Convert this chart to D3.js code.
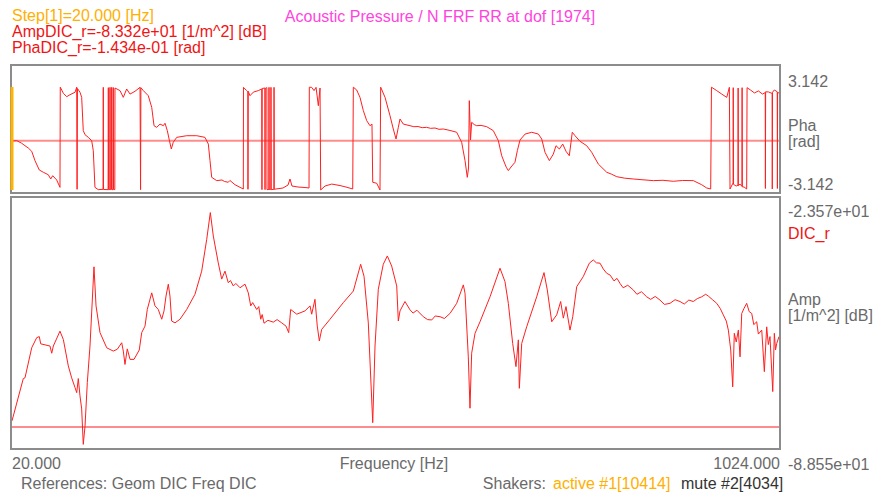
<!DOCTYPE html>
<html lang="en">
<head>
<meta charset="UTF-8">
<title>Acoustic Pressure FRF</title>
<script src="https://d3js.org/d3.v7.min.js"></script>
<style>
  body { margin: 0; background: #fff; }
  svg text { font-family: "Liberation Sans", Arial, sans-serif; font-size: 16px; }
</style>
</head>
<body>
<svg id="chart" width="874" height="492"></svg>
<script>
// Cursor / header values
const stepHz = 20.0;
const cursorAmp = -83.32;
const cursorPha = -0.1434;

// Axis extents and tick labels
const freqRange = [20, 1024];
const freqTicks = ["20.000", "1024.000"];
const phaRange = [-Math.PI, Math.PI];
const phaTicks = ["3.142", "-3.142"];
const ampRange = [-88.55, -23.57];
const ampTicks = ["-2.357e+01", "-8.855e+01"];

// Amplitude [dB]
const ampFreq = [20, 34.8, 37.0, 45.8, 52.3, 55.7, 57.6, 69.7, 72.0, 74.1, 82.8, 87.2, 93.7, 98.1, 102.5, 104.7, 106.8, 109.0, 111.2, 113.3,
  115.6, 118.6, 122.1, 127.3, 130.0, 135.2, 144.0, 152.6, 157.8, 163.6, 165.7, 167.9, 170.9, 174.5, 179.7, 186.6, 189.8, 194.1, 197.1, 202.9,
  207.2, 211.5, 216.0, 219.0, 221.6, 224.6, 226.8, 229.0, 233.4, 239.9, 248.7, 259.5, 268.3, 274.9, 279.6, 283.5, 290.0, 294.5, 298.8, 303.1,
  306, 309.7, 313, 318.5, 325.0, 329.3, 332.5, 335, 340.3, 343, 345.6, 347.5, 349.9, 355, 362.0, 367, 373.0, 378.7, 382.2, 384.8,
  392.7, 403.5, 410.1, 412.3, 416.6, 419.6, 422.3, 425.4, 436.3, 453.7, 466.8, 476.4, 480.8, 486.4, 492.2, 495.2, 499.5, 506.0, 511.3, 517.0,
  523.6, 525.7, 527.9, 534.4, 541.0, 545, 550, 558.4, 564, 569.4, 574, 580.3, 586, 593.3, 602.1, 610.8, 613.0, 617.3, 619.5, 621.7,
  626.1, 632.6, 645.7, 658.8, 665.3, 669.7, 675.4, 679.7, 682.8, 684.1, 687.2, 693.7, 706.8, 716.4, 720.7, 726.5, 733.0, 738.2, 741.7, 745.2,
  750.4, 754.0, 759.2, 767.8, 775.7, 780.9, 785, 789.7, 794, 798.5, 803, 808, 812, 815.9, 820, 826, 833.3, 838, 844, 850.8,
  856, 862, 868.2, 874, 881.3, 888, 894.4, 900, 906, 911.8, 917, 922.8, 928, 931.5, 937, 942.5, 947, 951.1, 955, 957.7,
  960.8, 963.4, 965.5, 968, 970.8, 973.0, 975.2, 978, 981.7, 985, 988.3, 991, 994.8, 997, 1001.4, 1004.8, 1007.9, 1010, 1012.2, 1015.8,
  1017.9, 1019.5, 1021.0, 1024];
const ampDb = [-81.6, -69.9, -69.7, -61.4, -58.6, -58.3, -60.3, -60.9, -62.9, -60.9, -56.8, -59.1, -66.4, -69.7, -72.4, -73.8, -69.9, -74.7, -78.3, -88.1,
  -83.0, -71.0, -60.9, -39.0, -49.8, -57.2, -61.4, -62.3, -61.8, -60.0, -62.3, -66.0, -61.7, -64.6, -64.6, -62.0, -57.2, -55.4, -50.8, -46.2,
  -49.8, -50.8, -53.5, -51.2, -47.1, -43.8, -47.1, -54.0, -54.5, -53.5, -50.8, -46.6, -40.2, -31.4, -24.0, -30.5, -37.9, -42.4, -40.2, -43.4,
  -42.8, -44.3, -43.6, -44.8, -43.8, -46.2, -49.8, -48.9, -50.8, -50.0, -53.5, -52.2, -54.6, -53.8, -54.3, -53.6, -54.5, -55.4, -57.2, -50.8,
  -52.1, -51.2, -49.8, -52.1, -48.0, -55.4, -59.5, -56.3, -53.5, -48.9, -45.7, -38.3, -41.6, -54.5, -82.1, -60.9, -45.2, -38.3, -36.0, -38.8,
  -44.3, -54.0, -51.2, -48.6, -50.9, -51.8, -51.0, -52.8, -53.6, -53.7, -52.6, -52.8, -53.3, -51.9, -49.1, -44.0, -46.3, -63.9, -78.1, -62.9,
  -57.4, -54.2, -47.3, -39.4, -43.1, -49.1, -60.2, -66.6, -59.2, -72.6, -60.2, -55.6, -47.3, -40.6, -45.4, -54.2, -52.3, -48.6, -53.2, -50.0,
  -56.5, -52.8, -44.5, -41.7, -38.0, -37.1, -37.9, -38.0, -39.6, -40.8, -41.3, -42.9, -42.2, -43.6, -44.8, -44.1, -45.4, -46.6, -45.9, -47.3,
  -48.0, -47.2, -48.2, -49.4, -49.1, -48.1, -48.6, -49.3, -48.2, -48.6, -47.8, -47.3, -46.6, -47.1, -48.1, -49.1, -50.5, -52.3, -54.0, -56.5,
  -62.0, -72.2, -57.4, -59.8, -56.5, -63.9, -51.9, -50.6, -49.1, -51.4, -51.9, -55.0, -54.2, -57.6, -56.5, -68.0, -55.6, -60.5, -58.3, -73.5,
  -57.4, -62.0, -60.2, -58.3];

// Phase [rad] (wrapped to +/- pi)
const phaFreq = [20, 26.2, 32.7, 37.0, 41.3, 45.8, 50.1, 55.7, 61.0, 67.5, 70.7, 73.3, 78.5, 82.8, 83.2, 87.2, 91.6, 95.9, 102.5, 104.7,
  105.2, 105.7, 109.0, 111.2, 113.3, 115.6, 119.9, 124.3, 126.4, 128.6, 132.9, 139.2, 139.5, 139.8, 145.8, 146.1, 146.4, 148.1, 148.3, 148.6,
  150.3, 150.5, 150.8, 152.4, 152.6, 152.9, 154.6, 154.8, 161.4, 165.7, 170.1, 174.5, 181.0, 187.6, 188.3, 188.7, 191.9, 198.4, 202.9, 205.9,
  209.4, 213.7, 218.1, 220.3, 223.3, 225.9, 228.5, 231.1, 235.6, 248.7, 261.8, 272.6, 277.0, 279.2, 281.4, 288.0, 294.9, 298, 303.1, 305.3,
  311.9, 318.5, 322.8, 323.0, 327.2, 328.7, 328.9, 329.2, 331.5, 335.9, 342.4, 346.9, 347.2, 347.5, 351.0, 351.2, 351.5, 353.6, 353.8, 356.2,
  356.4, 356.7, 358.8, 359.0, 359.3, 362.8, 363.0, 363.3, 365.6, 374.7, 381.3, 383.9, 386.5, 394.4, 403.5, 408.8, 409.2, 412.3, 415.4, 418.0,
  421.0, 423.2, 424.1, 429.7, 438.5, 449.4, 457.2, 466.0, 466.8, 471.2, 475.5, 479.9, 484.3, 488.6, 491.2, 492.2, 497.4, 501.7, 502.6, 508.3,
  514.8, 519.1, 522.7, 525.7, 527.9, 532.2, 541.0, 546, 551.5, 557, 562.8, 568, 573.7, 579, 584.6, 593.3, 602.1, 608.6, 613.0, 616.0,
  617.6, 618.6, 620.2, 621.7, 625, 628.3, 634, 641.4, 650.0, 656.6, 661.0, 665.3, 667, 669.7, 673.2, 678.4, 681.5, 685.0, 691.6, 700.3,
  709.0, 713.4, 717.7, 723.4, 728.6, 732.1, 736.5, 740.9, 745.2, 749.5, 753.4, 757.0, 763.5, 772.3, 778.8, 787.5, 798.5, 805, 811.6, 822,
  833.3, 846, 859.5, 872, 885.7, 898, 911.8, 922.8, 929.4, 934.6, 935.6, 942.5, 949.0, 955.6, 959.0, 959.9, 963.9, 964.1, 964.5, 967.9,
  970.3, 970.5, 970.8, 973.0, 975.5, 975.7, 976.0, 978.3, 981.7, 982.2, 986.6, 991.8, 997.1, 1002.3, 1006.0, 1006.2, 1006.5, 1010.2, 1015.0, 1015.2,
  1015.5, 1017.9, 1021.7, 1021.9, 1022.2, 1024];
const phaRad = [-0.143, -0.13, -0.29, -0.44, -0.58, -0.78, -1.35, -1.92, -2.06, -2.21, -2.47, -2.27, -2.53, -2.98, 3.13, 2.76, 2.55, 2.67, 2.82, 3.13,
  -3.10, 3.05, 2.82, 2.51, 0.48, 0.23, 0.07, -0.13, -0.74, -2.98, -3.12, -3.10, 3.12, -3.11, -3.12, 3.10, -3.12, -3.11, 3.12, -3.12,
  -3.10, 3.12, -3.12, -3.12, 3.11, -3.10, -3.12, 3.08, 2.92, 2.51, 3.02, 2.71, 2.88, 3.12, -3.12, 3.10, 2.92, 2.61, 1.90, 0.78,
  0.68, 0.88, 0.78, 0.93, 0.48, -0.09, -0.64, -0.23, 0.07, 0.17, 0.17, 0.07, -0.34, -1.35, -2.37, -2.57, -2.53, -2.62, -2.67, -2.56,
  -2.82, -2.98, -3.08, 3.12, 2.92, 2.85, -3.10, 2.88, 2.61, 2.83, 2.92, 3.02, -3.12, 3.05, 3.08, -3.12, 3.06, 3.10, -3.12, -3.11,
  3.12, -3.11, -3.10, 3.12, -3.12, -3.10, 3.12, -3.10, -3.08, -3.02, -2.84, -2.47, -2.90, -2.96, -2.99, -3.02, 3.13, 3.12, 2.92, 3.12,
  2.00, 3.08, -3.14, -2.90, -2.78, -2.87, -2.96, -3.08, 3.13, 2.96, 2.51, 1.70, 1.09, 0.78, 0.88, -2.67, -2.73, -3.14, 3.13, 2.51,
  1.39, 0.58, -0.03, 0.68, 1.19, 0.88, 0.78, 0.72, 0.73, 0.66, 0.68, 0.62, 0.64, 0.56, 0.58, 0.49, 0.38, -0.23, -1.35, -2.37,
  -1.80, 2.31, -0.09, 0.99, 0.85, 0.78, 0.80, 0.72, 0.48, -0.13, -1.05, -1.56, -1.75, -1.96, -1.74, -1.45, -0.74, -0.09, 0.27, 0.38,
  0.27, -0.03, -0.84, -1.35, -0.95, -0.44, -0.64, -0.34, -0.78, -1.05, 0.38, 0.17, -0.17, -0.44, -0.84, -1.56, -2.06, -2.18, -2.33, -2.42,
  -2.47, -2.52, -2.57, -2.55, -2.61, -2.56, -2.57, -2.82, -3.02, -3.08, 3.13, 2.92, 2.71, 2.51, 3.12, -3.08, -2.71, 3.10, -2.80, -2.90,
  -2.85, 3.08, -2.88, -2.78, -2.92, 3.10, -2.95, -2.96, -3.08, 3.10, 2.96, 2.78, 2.90, 2.71, 2.80, -3.05, 2.85, 2.84, 2.75, -3.08,
  2.82, 2.96, 2.85, -3.05, 2.80, 2.78];

const svg = d3.select("#chart");
const frameColor = "#8c8c8c";
const labelColor = "#6a6a6a";
const curveColor = "#ff1f1f";
const cursorLine = "#ff8c8c";

// panel boxes
const left = 11, right = 780;
const phaTop = 65, phaBottom = 193;
const ampTop = 197, ampBottom = 449;

const x = d3.scaleLinear().domain(freqRange).range([12, 779]);
const yPha = d3.scaleLinear().domain(phaRange).range([190, 87]);
const yAmp = d3.scaleLinear().domain(ampRange).range([446, 211]);

svg.append("rect").attr("width", 874).attr("height", 492).attr("fill", "#fff");

const defs = svg.append("defs");
defs.append("clipPath").attr("id", "clipPha").append("rect")
  .attr("x", left).attr("y", phaTop).attr("width", right - left).attr("height", phaBottom - phaTop);
defs.append("clipPath").attr("id", "clipAmp").append("rect")
  .attr("x", left).attr("y", ampTop).attr("width", right - left).attr("height", ampBottom - ampTop);

// cursor value lines
svg.append("line")
  .attr("x1", x(freqRange[0])).attr("x2", x(freqRange[1]))
  .attr("y1", yPha(cursorPha)).attr("y2", yPha(cursorPha))
  .attr("stroke", cursorLine).attr("stroke-width", 2);
svg.append("line")
  .attr("x1", x(freqRange[0])).attr("x2", x(freqRange[1]))
  .attr("y1", yAmp(cursorAmp)).attr("y2", yAmp(cursorAmp))
  .attr("stroke", cursorLine).attr("stroke-width", 2);

// curves
const phaPts = phaFreq.map((f, i) => [f, phaRad[i]]);
const ampPts = ampFreq.map((f, i) => [f, ampDb[i]]);

svg.append("path")
  .datum(phaPts)
  .attr("clip-path", "url(#clipPha)")
  .attr("fill", "none")
  .attr("stroke", curveColor)
  .attr("stroke-width", 1)
  .attr("d", d3.line().x(d => x(d[0])).y(d => yPha(d[1])));

svg.append("path")
  .datum(ampPts)
  .attr("clip-path", "url(#clipAmp)")
  .attr("fill", "none")
  .attr("stroke", curveColor)
  .attr("stroke-width", 1)
  .attr("d", d3.line().x(d => x(d[0])).y(d => yAmp(d[1])));

// frames
svg.append("rect")
  .attr("x", left).attr("y", phaTop).attr("width", right - left).attr("height", phaBottom - phaTop)
  .attr("fill", "none").attr("stroke", frameColor).attr("stroke-width", 2);
svg.append("rect")
  .attr("x", left).attr("y", ampTop).attr("width", right - left).attr("height", ampBottom - ampTop)
  .attr("fill", "none").attr("stroke", frameColor).attr("stroke-width", 2);

// step cursor (orange, at the left edge)
svg.append("line")
  .attr("x1", x(stepHz)).attr("x2", x(stepHz))
  .attr("y1", yPha(phaRange[1])).attr("y2", yPha(phaRange[0]))
  .attr("stroke", "#ffb400").attr("stroke-width", 3);

// header
svg.append("text").attr("x", 12).attr("y", 21).attr("fill", "#ffb000").text("Step[1]=20.000 [Hz]");
svg.append("text").attr("x", 12).attr("y", 37).attr("fill", "#f01414").text("AmpDIC_r=-8.332e+01 [1/m^2] [dB]");
svg.append("text").attr("x", 12).attr("y", 53).attr("fill", "#f01414").text("PhaDIC_r=-1.434e-01 [rad]");
svg.append("text").attr("x", 440).attr("y", 22).attr("text-anchor", "middle").attr("fill", "#ff44dd")
  .text("Acoustic Pressure / N FRF RR at dof [1974]");

// right side labels
const rx = 788;
svg.append("text").attr("x", rx).attr("y", 87).attr("fill", labelColor).text(phaTicks[0]);
svg.append("text").attr("x", rx).attr("y", 131).attr("fill", labelColor).text("Pha");
svg.append("text").attr("x", rx).attr("y", 147).attr("fill", labelColor).text("[rad]");
svg.append("text").attr("x", rx).attr("y", 190).attr("fill", labelColor).text(phaTicks[1]);

svg.append("text").attr("x", rx).attr("y", 217).attr("fill", labelColor).text(ampTicks[0]);
svg.append("text").attr("x", rx).attr("y", 239).attr("fill", "#f01414").text("DIC_r");
svg.append("text").attr("x", rx).attr("y", 305).attr("fill", labelColor).text("Amp");
svg.append("text").attr("x", rx).attr("y", 321).attr("fill", labelColor).text("[1/m^2] [dB]");
svg.append("text").attr("x", rx).attr("y", 470).attr("fill", labelColor).text(ampTicks[1]);

// bottom labels
svg.append("text").attr("x", x(freqRange[0])).attr("y", 469).attr("fill", labelColor).text(freqTicks[0]);
svg.append("text").attr("x", x(freqRange[1]) + 1).attr("y", 469).attr("text-anchor", "end").attr("fill", labelColor).text(freqTicks[1]);
svg.append("text").attr("x", 394).attr("y", 469).attr("text-anchor", "middle").attr("fill", labelColor).text("Frequency [Hz]");

svg.append("text").attr("x", 21).attr("y", 489).attr("fill", labelColor).text("References: Geom DIC Freq DIC");
svg.append("text").attr("x", 546).attr("y", 489).attr("text-anchor", "end").attr("fill", labelColor).text("Shakers:");
svg.append("text").attr("x", 553).attr("y", 489).attr("fill", "#ffb000").text("active #1[10414]");
svg.append("text").attr("x", 681).attr("y", 489).attr("fill", "#333").text("mute #2[4034]");
</script>
</body>
</html>
